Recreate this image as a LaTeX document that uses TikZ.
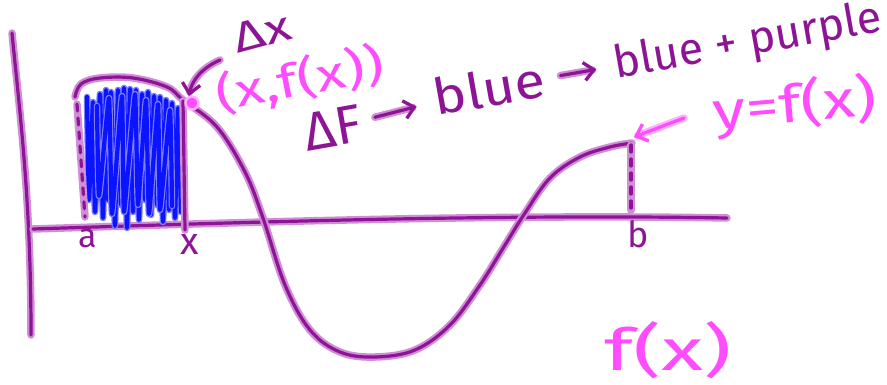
\documentclass[tikz,border=0pt]{standalone}
\usepackage{fontspec}
\setmainfont{Fira Sans}
\usetikzlibrary{arrows.meta}
\definecolor{pmain}{HTML}{8E1496}
\definecolor{phalo}{HTML}{CF8ED6}
\definecolor{kmain}{HTML}{FF4CFF}
\definecolor{khalo}{HTML}{FFB0FF}
\definecolor{bmain}{HTML}{0A14FF}
\definecolor{bhalo}{HTML}{8080FF}
\tikzset{
  pstroke/.style={draw=pmain, line width=3.2pt, line cap=round, line join=round,
    preaction={draw=phalo, line width=7.5pt, line cap=round, line join=round}},
  kstroke/.style={draw=kmain, line width=3.2pt, line cap=round, line join=round,
    preaction={draw=khalo, line width=7.5pt, line cap=round, line join=round}},
  bstroke/.style={draw=bmain, line width=4.2pt, line cap=round, line join=round,
    preaction={draw=bhalo, line width=6.5pt, line cap=round, line join=round}},
  dashy/.style={dash pattern=on 7pt off 7pt},
  ptext/.style={text=pmain, inner sep=0pt},
  ktext/.style={text=kmain, inner sep=0pt},
  barb/.style={-{Straight Barb[length=10pt,width=18pt,line width=3.2pt]}}
}
\begin{document}
\begin{tikzpicture}[x=1pt,y=-1pt]
\useasboundingbox[fill=white] (0,0) rectangle (887,385);
% axes
\draw[pstroke] (12,33) .. controls (20,115) and (31,200) .. (31,335);
\draw[pstroke] (33,229) .. controls (250,222) and (500,214) .. (727,218);
% blue scribble
\draw[bstroke] plot[smooth, tension=0.25] coordinates {(87,97) (89,200) (93,102) (95,212) (100,94) (103,218) (106,90) (108,200) (111,92) (115,226) (118,90) (121,205) (124,88) (127,228) (130,89) (133,212) (136,90) (139,220) (142,94) (145,200) (148,92) (151,215) (154,96) (157,205) (160,97) (163,222) (166,100) (169,210) (172,103) (175,218) (178,108) (181,212)};
\draw[bstroke] plot[smooth, tension=0.25] coordinates {(97,106) (99,196) (109,98) (112,214) (122,96) (124,212) (135,94) (138,205) (146,100) (149,214) (158,104) (160,210) (170,110) (172,206)};
% function curve
\draw[pstroke] plot[smooth, tension=0.6] coordinates {(75,97) (81,84) (100,78) (133,78) (167,87) (183,100) (217,127) (245,172) (263,218) (285,285) (310,330) (340,352) (375,357) (415,350) (450,325) (480,285) (505,245) (525,213) (550,178) (580,157) (610,147) (632,143)};
% dashed verticals
\draw[pstroke, dashy] (77,104) -- (85,217);
\draw[pstroke] (183,101) -- (185,230);
\draw[pstroke, dashy] (631,145) -- (631,210);
% point marker
\coordinate (pt) at (192,103);
\fill[kmain, draw=khalo, line width=2.5pt] (pt) circle (6.5pt);
% axis labels
\node[ptext, font=\fontsize{34}{34}\selectfont] (la) at (88,239) {a};
\node[ptext, font=\fontsize{38}{38}\selectfont] (lx) at (190,244) {x};
\node[ptext, font=\fontsize{36}{36}\selectfont] (lb) at (638,234) {b};
% Delta x with arrow
\node[ptext, rotate=15, font=\fontsize{42}{42}\selectfont] (dx) at (262,32) {\scalebox{1.3}[1]{Δx}};
\coordinate (dxtail) at (220,60);
\draw[pstroke, barb] (dxtail) .. controls (202,68) and (192,80) .. (189,96);
% (x,f(x))
\node[ktext, rotate=11, font=\fontsize{46}{46}\selectfont] (xfx) at (300,80) {\scalebox{1.3}[1]{(x,f(x))}};
% Delta F line
\node[ptext, rotate=10, font=\fontsize{54}{54}\selectfont] (dF) at (333,128) {ΔF};
\node[ptext, rotate=10, font=\fontsize{50}{50}\selectfont] (bl1) at (489,88) {\scalebox{1.12}[1]{blue}};
\node[ptext, rotate=10, font=\fontsize{45}{45}\selectfont] (bp) at (748,43) {blue + purple};
\draw[pstroke, barb, shorten <=14pt, shorten >=18pt] (dF) -- (bl1);
\draw[pstroke, barb, shorten <=16pt, shorten >=18pt] (bl1) -- (bp);
% y=f(x)
\node[ktext, rotate=5, font=\fontsize{52}{52}\selectfont] (yfx) at (795,106) {\scalebox{1.28}[1]{y=f(x)}};
\coordinate (ytail) at (684,118);
\coordinate (bend) at (634,137);
\draw[kstroke, barb] (ytail) -- (bend);
% f(x)
\node[ktext, font=\fontsize{58}{58}\selectfont] (fx) at (668,350) {\scalebox{1.5}[1]{f(x)}};
\end{tikzpicture}
\end{document}
